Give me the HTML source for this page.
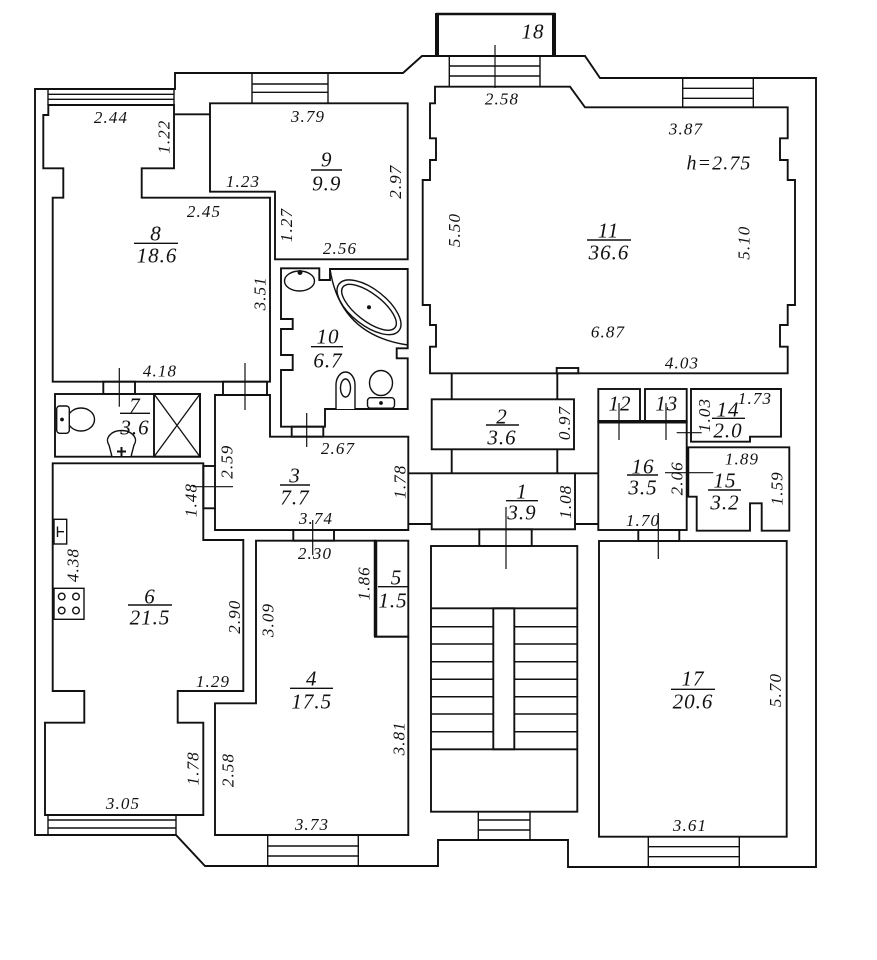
<!DOCTYPE html>
<html><head><meta charset="utf-8"><style>
html,body{margin:0;padding:0;background:#fff;}
svg{display:block;}
text{font-family:"Liberation Serif",serif;font-style:italic;fill:#111;}
.a{font-size:21px;}
.d{font-size:17px;}
</style></head><body>
<svg width="877" height="960" viewBox="0 0 877 960" xmlns="http://www.w3.org/2000/svg">
<rect width="877" height="960" fill="#fff"/>
<g fill="none" stroke="#111" stroke-width="1.9" stroke-linejoin="miter">
<!-- outer outline -->
<path d="M35 89 L175 89 L175 73 L403 73 L422 56 L585 56 L600 78 L816 78 L816 867 L568 867 L568 840 L438 840 L438 866 L205 866 L176 835 L35 835 Z"/>
<!-- balcony 18 -->
<line x1="437" y1="13" x2="437" y2="56" stroke-width="4"/>
<line x1="554" y1="13" x2="554" y2="56" stroke-width="4"/>
<line x1="436" y1="14" x2="555" y2="14" stroke-width="2.5"/>
<!-- windows -->
<path d="M48 89 V105 M174 89 V105 M48 94.3 H174 M48 99.3 H174" stroke-width="1.4"/>
<path d="M252 73 V103.3 M328 73 V103.3 M252 84 H328 M252 92.3 H328" stroke-width="1.4"/>
<path d="M449.3 56 V86.7 M540 56 V86.7 M449.3 66 H540 M449.3 76 H540" stroke-width="1.4"/>
<path d="M682.7 78 V107.3 M753.3 78 V107.3 M682.7 88.3 H753.3 M682.7 98.3 H753.3" stroke-width="1.4"/>
<path d="M48 815 V835 M176 815 V835 M48 820 H176 M48 828 H176" stroke-width="1.4"/>
<path d="M267.7 835 V866 M358.3 835 V866 M267.7 846 H358.3 M267.7 856 H358.3" stroke-width="1.4"/>
<path d="M478.3 811.7 V840 M530 811.7 V840 M478.3 820 H530 M478.3 830 H530" stroke-width="1.4"/>
<path d="M648.3 836.7 V866.7 M739.3 836.7 V866.7 M648.3 846.7 H739.3 M648.3 856.7 H739.3" stroke-width="1.4"/>
<!-- wall between 8 and 9 -->
<path d="M175 114.3 H210"/>
<!-- room 8 -->
<polygon points="48.3,105 174,105 174,168.3 141.7,168.3 141.7,197.7 270,197.7 270,381.7 52.7,381.7 52.7,197.7 63.3,197.7 63.3,168.3 43.3,168.3 43.3,115 48.3,115"/>
<!-- room 9 -->
<polygon points="210,103.3 407.7,103.3 407.7,259.3 275,259.3 275,191.7 210,191.7"/>
<!-- room 10 -->
<polygon points="281,268.3 319.3,268.3 319.3,280 330,280 330,269 407.7,269 407.7,348.3 396.7,348.3 396.7,358.3 407.7,358.3 407.7,409 325,409 325,426.7 281,426.7 281,370 292.7,370 292.7,355 281,355 281,329 292.7,329 292.7,319 281,319"/>
<!-- room 11 -->
<polygon points="435,86.7 570,86.7 585,107.3 787.7,107.3 787.7,138.3 780,138.3 780,160 787.7,160 787.7,180 795,180 795,305 787.7,305 787.7,325 780,325 780,346.7 787.7,346.7 787.7,373.3 430,373.3 430,346.7 436,346.7 436,325 430,325 430,305 422.7,305 422.7,180 430,180 430,160 436,160 436,138.3 430,138.3 430,103.3 435,103.3"/>
<!-- room 7 -->
<rect x="55" y="394" width="145" height="62.7"/>
<rect x="154" y="394" width="46" height="62.7"/>
<path d="M154 394 L200 456.7 M200 394 L154 456.7" stroke-width="1.3"/>
<!-- room 3 -->
<path d="M215 466 V395 H270 V436.7 H408.3 V530 H215 V508.3"/>
<!-- room 6 -->
<polygon points="52.7,463.3 203.3,463.3 203.3,540 243.3,540 243.3,691 177.7,691 177.7,722.7 203.3,722.7 203.3,815 45,815 45,722.7 84.3,722.7 84.3,691 52.7,691"/>
<!-- room 4 -->
<polygon points="256,540.7 375,540.7 375,636.7 408.3,636.7 408.3,835 215,835 215,703.3 256,703.3"/>
<!-- room 5 -->
<rect x="375" y="540.7" width="33.3" height="96"/>
<line x1="375.5" y1="540.7" x2="375.5" y2="636.7" stroke-width="3.5"/>
<!-- room 2, 1 -->
<rect x="431.7" y="399.3" width="142.3" height="50"/>
<rect x="431.7" y="473.3" width="143.3" height="56"/>
<path d="M451.7 373.3 V399.3 M557.3 373.3 V399.3 M451.7 449.3 V473.3 M557.3 449.3 V473.3" />
<path d="M408.3 473.3 H431.7 M408.3 524 H431.7 M575 473.3 H598.3 M575 524 H598.3"/>
<!-- stair -->
<rect x="431" y="546" width="146.3" height="265.7"/>
<path d="M431 608.3 H577.3 M431 749.3 H577.3"/>
<rect x="493.3" y="608.3" width="21" height="141"/>
<path d="M431 626.7 H493.3 M431 644 H493.3 M431 661.7 H493.3 M431 679.3 H493.3 M431 696.7 H493.3 M431 714 H493.3 M431 731.7 H493.3
M514.3 626.7 H577.3 M514.3 644 H577.3 M514.3 661.7 H577.3 M514.3 679.3 H577.3 M514.3 696.7 H577.3 M514.3 714 H577.3 M514.3 731.7 H577.3" stroke-width="1.5"/>
<!-- rooms 12,13,16,14,15,17 -->
<rect x="598.3" y="389" width="41.7" height="32.7"/>
<rect x="645" y="389" width="41.7" height="32.7"/>
<rect x="598.3" y="421.7" width="88.4" height="108.3"/>
<line x1="598.3" y1="421.7" x2="686.7" y2="421.7" stroke-width="3.5"/>
<polygon points="691,389 781,389 781,436.7 750,436.7 750,441.7 691,441.7"/>
<polygon points="688.3,447.3 789.3,447.3 789.3,530.7 761.7,530.7 761.7,503.3 750,503.3 750,530.7 696.7,530.7 696.7,496.7 688.3,496.7"/>
<rect x="599" y="541" width="187.7" height="295.7"/>
<!-- door sills -->
<rect x="103.3" y="381.7" width="31.7" height="12.3"/>
<rect x="223" y="381.7" width="44" height="13.3"/>
<rect x="291.7" y="426.7" width="31.6" height="10"/>
<rect x="203.3" y="466" width="11.7" height="42.3"/>
<rect x="293.3" y="530" width="40.7" height="10.7"/>
<rect x="556.7" y="368" width="21.6" height="5.3"/>
<rect x="638.3" y="530" width="41" height="11"/>
<rect x="479.3" y="529.3" width="52.4" height="16.7"/>
</g>
<!-- door markers -->
<g stroke="#111" stroke-width="1.2" fill="none">
<path d="M495 45 V88 M119.3 368 V406.7 M245 363 V410 M306.7 413 V447 M193 486.7 H233 M312.7 520 V555 M506 507 V569 M619 403 V440 M666 403 V440 M676.7 432.7 H701.7 M665 472.7 H713.3 M658.3 513 V559"/>
</g>
<!-- fixtures -->
<g stroke="#111" stroke-width="1.4" fill="#fff">
<ellipse cx="299.5" cy="281" rx="15" ry="10"/>
<circle cx="300" cy="272.5" r="1.8" fill="#111"/>
<path d="M330 269 Q340 335 407.7 345" fill="none"/>
<ellipse cx="369" cy="307.3" rx="38" ry="18" transform="rotate(38 369 307.3)"/>
<ellipse cx="369" cy="307.3" rx="33" ry="13.5" transform="rotate(38 369 307.3)"/>
<circle cx="369" cy="307.3" r="1.3" fill="#111"/>
<path d="M336 409 V385 A9.5 13 0 0 1 355 385 V409" />
<ellipse cx="345.5" cy="388" rx="5" ry="9"/>
<ellipse cx="381" cy="383" rx="11.5" ry="12.5"/>
<rect x="367.5" y="397.7" width="27" height="10.5" rx="3"/>
<circle cx="381" cy="403" r="1.2" fill="#111"/>
<ellipse cx="81" cy="419.5" rx="13.5" ry="11.5"/>
<rect x="56.7" y="406" width="12.6" height="27.3" rx="3"/>
<circle cx="62" cy="419.5" r="1.2" fill="#111"/>
<path d="M109 445 A14 10 0 1 1 134 445 L131 456.7 L112 456.7 Z"/>
<path d="M121.5 447 V456 M117 451.5 H126" stroke-width="2"/>
<rect x="54" y="519.3" width="12.7" height="24.7"/>
<path d="M57.5 526.5 V537 M57.5 531.7 H64" fill="none"/>
<rect x="54" y="588.3" width="30" height="31"/>
<circle cx="61.7" cy="596.5" r="3.3"/>
<circle cx="76" cy="596.5" r="3.3"/>
<circle cx="61.7" cy="610.5" r="3.3"/>
<circle cx="76" cy="610.5" r="3.3"/>
</g>
<!-- fraction lines -->
<g stroke="#111" stroke-width="1.4">
<path d="M134 243.3 H178 M311 170 H342 M311 346.7 H343 M587 240 H631 M120 413.3 H150 M280 485 H310 M128 605 H172 M378 586.7 H408 M290 688.3 H333 M486 425 H519 M506 500.7 H538 M712 418.3 H745 M627 475 H658 M708 490 H741 M671 689.3 H715"/>
</g>
<!-- area labels -->
<g class="a" text-anchor="middle" letter-spacing="1">
<text x="156" y="233" dy="0.35em">8</text><text x="157" y="255" dy="0.35em">18.6</text>
<text x="326.7" y="159" dy="0.35em">9</text><text x="326.7" y="183" dy="0.35em">9.9</text>
<text x="328" y="336" dy="0.35em">10</text><text x="328" y="360" dy="0.35em">6.7</text>
<text x="608.5" y="230" dy="0.35em">11</text><text x="609" y="252" dy="0.35em">36.6</text>
<text x="135" y="405" dy="0.35em">7</text><text x="135" y="427" dy="0.35em">3.6</text>
<text x="295" y="475" dy="0.35em">3</text><text x="295" y="497" dy="0.35em">7.7</text>
<text x="150" y="596" dy="0.35em">6</text><text x="150" y="617" dy="0.35em">21.5</text>
<text x="396.5" y="577" dy="0.35em">5</text><text x="393" y="600" dy="0.35em">1.5</text>
<text x="311.7" y="678" dy="0.35em">4</text><text x="311.7" y="701" dy="0.35em">17.5</text>
<text x="502" y="416" dy="0.35em">2</text><text x="502" y="437" dy="0.35em">3.6</text>
<text x="522" y="491" dy="0.35em">1</text><text x="522" y="512" dy="0.35em">3.9</text>
<text x="728" y="409" dy="0.35em">14</text><text x="728" y="430" dy="0.35em">2.0</text>
<text x="643" y="466" dy="0.35em">16</text><text x="643" y="487" dy="0.35em">3.5</text>
<text x="725" y="480" dy="0.35em">15</text><text x="725" y="502" dy="0.35em">3.2</text>
<text x="693" y="678" dy="0.35em">17</text><text x="693" y="701" dy="0.35em">20.6</text>
<text x="620" y="403" dy="0.35em">12</text>
<text x="666.7" y="403" dy="0.35em">13</text>
<text x="533" y="31" dy="0.35em">18</text>
</g>
<!-- dimension labels horizontal -->
<g class="d" text-anchor="middle" letter-spacing="1.1">
<text x="111" y="117" dy="0.35em">2.44</text>
<text x="308" y="116" dy="0.35em">3.79</text>
<text x="243" y="181" dy="0.35em">1.23</text>
<text x="204" y="211" dy="0.35em">2.45</text>
<text x="340" y="248" dy="0.35em">2.56</text>
<text x="160" y="370.5" dy="0.35em">4.18</text>
<text x="338" y="448" dy="0.35em">2.67</text>
<text x="316" y="518" dy="0.35em">3.74</text>
<text x="315" y="553" dy="0.35em">2.30</text>
<text x="213" y="681" dy="0.35em">1.29</text>
<text x="123" y="803" dy="0.35em">3.05</text>
<text x="312" y="824" dy="0.35em">3.73</text>
<text x="502" y="98.5" dy="0.35em">2.58</text>
<text x="686" y="128.5" dy="0.35em">3.87</text>
<text x="719" y="162.5" dy="0.35em" font-size="20">h=2.75</text>
<text x="608" y="331.5" dy="0.35em">6.87</text>
<text x="682" y="362.5" dy="0.35em">4.03</text>
<text x="755" y="398" dy="0.35em">1.73</text>
<text x="742" y="458.5" dy="0.35em">1.89</text>
<text x="643" y="520" dy="0.35em">1.70</text>
<text x="690" y="825" dy="0.35em">3.61</text>
</g>
<!-- dimension labels vertical -->
<g class="d" text-anchor="middle" letter-spacing="1.1">
<text transform="translate(163.3,136.7) rotate(-90)" dy="0.35em">1.22</text>
<text transform="translate(395,181.7) rotate(-90)" dy="0.35em">2.97</text>
<text transform="translate(286,225) rotate(-90)" dy="0.35em">1.27</text>
<text transform="translate(259.3,293.3) rotate(-90)" dy="0.35em">3.51</text>
<text transform="translate(454,230) rotate(-90)" dy="0.35em">5.50</text>
<text transform="translate(743.3,242.7) rotate(-90)" dy="0.35em">5.10</text>
<text transform="translate(564,423) rotate(-90)" dy="0.35em">0.97</text>
<text transform="translate(565,501.7) rotate(-90)" dy="0.35em">1.08</text>
<text transform="translate(704,415) rotate(-90)" dy="0.35em">1.03</text>
<text transform="translate(676.7,478.3) rotate(-90)" dy="0.35em">2.06</text>
<text transform="translate(776.7,488.3) rotate(-90)" dy="0.35em">1.59</text>
<text transform="translate(226.7,461.7) rotate(-90)" dy="0.35em">2.59</text>
<text transform="translate(190.7,500) rotate(-90)" dy="0.35em">1.48</text>
<text transform="translate(399.3,481.7) rotate(-90)" dy="0.35em">1.78</text>
<text transform="translate(72.7,565) rotate(-90)" dy="0.35em">4.38</text>
<text transform="translate(234,616.7) rotate(-90)" dy="0.35em">2.90</text>
<text transform="translate(267.3,620) rotate(-90)" dy="0.35em">3.09</text>
<text transform="translate(363.3,583.3) rotate(-90)" dy="0.35em">1.86</text>
<text transform="translate(192.7,768.3) rotate(-90)" dy="0.35em">1.78</text>
<text transform="translate(227.3,770) rotate(-90)" dy="0.35em">2.58</text>
<text transform="translate(398.3,738.3) rotate(-90)" dy="0.35em">3.81</text>
<text transform="translate(775,690) rotate(-90)" dy="0.35em">5.70</text>
</g>
</svg>
</body></html>
